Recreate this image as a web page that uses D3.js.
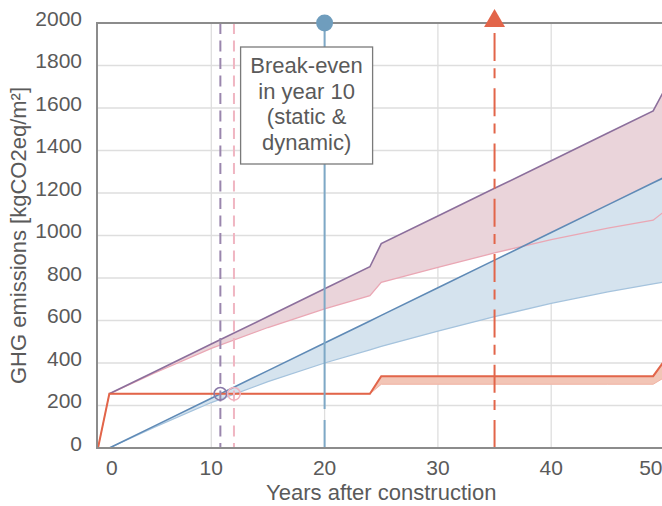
<!DOCTYPE html>
<html>
<head>
<meta charset="utf-8">
<script src="https://cdn.jsdelivr.net/npm/d3@7"></script>
<style>
  body { margin: 0; background: #fff; }
  svg { display: block; font-family: "Liberation Sans", Arial, sans-serif; }
</style>
</head>
<body>
<div id="chart"></div>
<script>
// years after construction
var years = [0, 1, 5, 10, 15, 20, 24, 25, 30, 35, 40, 45, 49, 50];
// operational / construction emissions (kgCO2eq/m2)
var redStatic   = [0, 255, 255, 255, 255, 255, 255, 338, 338, 338, 338, 338, 338, 412];
var redDynamic  = [0, 255, 255, 255, 255, 255, 255, 300, 300, 300, 300, 300, 300, 332];
var blueStatic  = [null, 0, 104, 234, 364, 494, 598, 624, 754, 884, 1014, 1144, 1248, 1274];
var blueDynamic = [null, 0, 98, 214, 312, 400, 462, 478, 550, 618, 681, 735, 772, 782];
var totalStatic  = [null, 255, 359, 489, 619, 749, 853, 962, 1092, 1222, 1352, 1482, 1586, 1686];
var totalDynamic = [null, 255, 353, 469, 567, 655, 717, 780, 850, 918, 981, 1035, 1072, 1114];

var breakEven = [{year: 10.8, value: 255, color: "#8a79a8", dash: "#9a86ad"},
                 {year: 12.0, value: 255, color: "#f0b3bf", dash: "#f0b6c2"}];
var blueMarkerYear = 20;
var redMarkerYear = 35;
var xTicks = [0, 10, 20, 30, 40, 50];
var yTicks = [0, 200, 400, 600, 800, 1000, 1200, 1400, 1600, 1800, 2000];
var noteLines = ["Break-even", "in year 10", "(static &", "dynamic)"];

var width = 662, height = 506;
var svg = d3.select("#chart").append("svg")
            .attr("width", width)
            .attr("height", height);

var x = d3.scaleLinear().domain([0, 50]).range([98, 664.5]);
var y = d3.scaleLinear().domain([0, 2000]).range([448, 23]);

var textColor = "#5a5a5a";
var tickSize = 21, titleSize = 22;

// grid
svg.append("g").selectAll("line")
   .data(yTicks.slice(1, -1))
   .enter().append("line")
   .attr("x1", x(0)).attr("x2", width)
   .attr("y1", function(d) { return y(d); })
   .attr("y2", function(d) { return y(d); })
   .style("stroke", "#dedede").style("stroke-width", 1.3);

svg.append("g").selectAll("line")
   .data(xTicks.slice(1))
   .enter().append("line")
   .attr("x1", function(d) { return x(d); })
   .attr("x2", function(d) { return x(d); })
   .attr("y1", y(2000)).attr("y2", y(0))
   .style("stroke", "#dedede").style("stroke-width", 1.3);

var rows = years.map(function(t, i) {
  return {t: t, rs: redStatic[i], rd: redDynamic[i], bs: blueStatic[i], bd: blueDynamic[i],
          ts: totalStatic[i], td: totalDynamic[i]};
});

function band(hi, lo) {
  return d3.area()
    .defined(function(d) { return d[hi] != null && d[lo] != null; })
    .x(function(d) { return x(d.t); })
    .y0(function(d) { return y(d[lo]); })
    .y1(function(d) { return y(d[hi]); });
}
function line(key) {
  return d3.line()
    .defined(function(d) { return d[key] != null; })
    .x(function(d) { return x(d.t); })
    .y(function(d) { return y(d[key]); });
}

// bands
svg.append("path").datum(rows).attr("d", band("ts", "td"))
   .style("fill", "#ead4da");
svg.append("path").datum(rows).attr("d", band("bs", "bd"))
   .style("fill", "#d5e3ee");
svg.append("path").datum(rows).attr("d", band("rs", "rd"))
   .style("fill", "#f2c5b6");

// lines
svg.append("path").datum(rows).attr("d", line("td"))
   .style("fill", "none").style("stroke", "#eaa7b4").style("stroke-width", 1.3);
svg.append("path").datum(rows).attr("d", line("bd"))
   .style("fill", "none").style("stroke", "#a5c3dd").style("stroke-width", 1.3);
svg.append("path").datum(rows).attr("d", line("ts"))
   .style("fill", "none").style("stroke", "#8c6f9c").style("stroke-width", 1.6);
svg.append("path").datum(rows).attr("d", line("bs"))
   .style("fill", "none").style("stroke", "#5f8ab6").style("stroke-width", 1.6);
svg.append("path").datum(rows).attr("d", line("rd"))
   .style("fill", "none").style("stroke", "#f0b3a3").style("stroke-width", 1);
svg.append("path").datum(rows).attr("d", line("rs"))
   .style("fill", "none").style("stroke", "#e2654a").style("stroke-width", 2);

// break-even dashed verticals and circles
svg.append("g").selectAll("line")
   .data(breakEven)
   .enter().append("line")
   .attr("x1", function(d) { return x(d.year); })
   .attr("x2", function(d) { return x(d.year); })
   .attr("y1", y(2000)).attr("y2", y(0))
   .style("stroke", function(d) { return d.dash; })
   .style("stroke-width", 2)
   .style("stroke-dasharray", "11,6.5");

svg.append("g").selectAll("circle")
   .data(breakEven)
   .enter().append("circle")
   .attr("cx", function(d) { return x(d.year); })
   .attr("cy", function(d) { return y(d.value); })
   .attr("r", 6.3)
   .style("fill", "none")
   .style("stroke", function(d) { return d.color; })
   .style("stroke-width", 1.6);

// blue marker line (year 20)
svg.append("line")
   .attr("x1", x(blueMarkerYear)).attr("x2", x(blueMarkerYear))
   .attr("y1", y(2000)).attr("y2", y(0))
   .style("stroke", "#7ea8c6").style("stroke-width", 2)
   .style("stroke-dasharray", "386,11");

// red marker line (year 35), drawn bottom-up
svg.append("line")
   .attr("x1", x(redMarkerYear)).attr("x2", x(redMarkerYear))
   .attr("y1", y(0)).attr("y2", y(2000) + 10)
   .style("stroke", "#e2654a").style("stroke-width", 2)
   .style("stroke-dasharray", "28,10,10,7.3");

// axes frame
svg.append("line")
   .attr("x1", x(0) - 1).attr("x2", width)
   .attr("y1", y(2000)).attr("y2", y(2000))
   .style("stroke", "#8c8c8c").style("stroke-width", 2);
svg.append("line")
   .attr("x1", x(0) - 1).attr("x2", width)
   .attr("y1", y(0)).attr("y2", y(0))
   .style("stroke", "#8c8c8c").style("stroke-width", 2);
svg.append("line")
   .attr("x1", x(0) - 1).attr("x2", x(0) - 1)
   .attr("y1", y(2000) - 1).attr("y2", y(0) + 1)
   .style("stroke", "#8c8c8c").style("stroke-width", 2);

// top markers
svg.append("circle")
   .attr("cx", x(blueMarkerYear)).attr("cy", y(2000))
   .attr("r", 8.5)
   .style("fill", "#6f9dbd");

var tri = d3.symbol().type(d3.symbolTriangle).size(190);
svg.append("path")
   .attr("d", tri())
   .attr("transform", "translate(" + x(redMarkerYear) + "," + (y(2000) - 2) + ")")
   .style("fill", "#e2654a");

// tick labels
svg.append("g").selectAll("text")
   .data(yTicks)
   .enter().append("text")
   .attr("x", x(0) - 16)
   .attr("y", function(d) { return y(d); })
   .attr("dy", "0.13em")
   .attr("text-anchor", "end")
   .style("font-size", tickSize + "px")
   .style("fill", textColor)
   .text(function(d) { return d; });

svg.append("g").selectAll("text")
   .data(xTicks)
   .enter().append("text")
   .attr("x", function(d) { return x(d); })
   .attr("y", y(0) + 27)
   .attr("dx", function(d, i) { return i === 0 ? 8 : (i === xTicks.length - 1 ? -2 : 0); })
   .attr("text-anchor", function(d, i) { return i === 0 ? "start" : (i === xTicks.length - 1 ? "end" : "middle"); })
   .style("font-size", tickSize + "px")
   .style("fill", textColor)
   .text(function(d) { return d; });

// axis titles
svg.append("text")
   .attr("x", (x(0) + x(50)) / 2)
   .attr("y", 500)
   .attr("text-anchor", "middle")
   .style("font-size", titleSize + "px")
   .style("fill", textColor)
   .text("Years after construction");

svg.append("text")
   .attr("transform", "translate(26," + ((y(0) + y(2000)) / 2) + ") rotate(-90)")
   .attr("text-anchor", "middle")
   .style("font-size", titleSize + "px")
   .style("fill", textColor)
   .text("GHG emissions [kgCO2eq/m²]");

// annotation box
var boxLeft = x(blueMarkerYear) - 84, boxTop = 47, boxW = 132, boxH = 117;
svg.append("rect")
   .attr("x", boxLeft).attr("y", boxTop)
   .attr("width", boxW).attr("height", boxH)
   .style("fill", "#fff")
   .style("stroke", "#7a7a7a").style("stroke-width", 1.3);

svg.append("g").selectAll("text")
   .data(noteLines)
   .enter().append("text")
   .attr("x", boxLeft + boxW / 2)
   .attr("y", function(d, i) { return 73 + i * 25.5; })
   .attr("text-anchor", "middle")
   .style("font-size", titleSize + "px")
   .style("fill", textColor)
   .text(function(d) { return d; });
</script>
</body>
</html>
